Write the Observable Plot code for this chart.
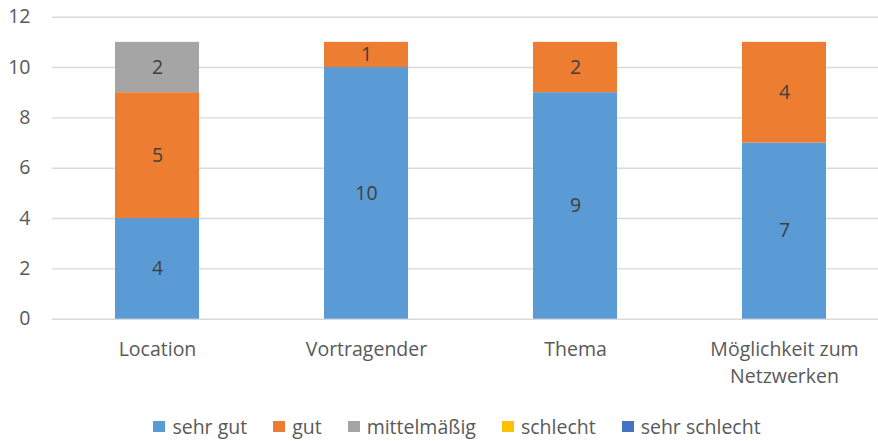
<!DOCTYPE html>
<html><head><meta charset="utf-8">
<script src="https://cdn.jsdelivr.net/npm/d3@7"></script>
<script src="https://cdn.jsdelivr.net/npm/@observablehq/plot@0.6"></script>
<style>
body{margin:0;background:#fff;font-family:"Open Sans",sans-serif;overflow:hidden}
#legend{display:flex;justify-content:center;align-items:center;width:878px;box-sizing:border-box;padding-left:36px;height:32px;font-size:19.5px;color:#595959;gap:26px}
#legend .item{display:flex;align-items:center;gap:7px}
#legend .sw{width:12px;height:11px;display:inline-block}
</style></head><body><div id="chart"></div><div id="legend"></div><script>
const categories = ["Location", "Vortragender", "Thema", "Möglichkeit zum Netzwerken"];
const seriesNames = ["sehr gut", "gut", "mittelmäßig", "schlecht", "sehr schlecht"];
const seriesColors = ["#5B9BD5", "#ED7D31", "#A5A5A5", "#FFC000", "#4472C4"];
const sehrGut = [4, 10, 9, 7];
const gut = [5, 1, 2, 4];
const mittelmaessig = [2, 0, 0, 0];
const schlecht = [0, 0, 0, 0];
const sehrSchlecht = [0, 0, 0, 0];
const yTicks = [0, 2, 4, 6, 8, 10, 12];

const seriesValues = [sehrGut, gut, mittelmaessig, schlecht, sehrSchlecht];
const rows = [];
seriesNames.forEach((s, si) => categories.forEach((c, ci) => {
  rows.push({category: c, series: s, value: seriesValues[si][ci]});
}));
const nonZero = rows.filter(d => d.value > 0);

const chart = Plot.plot({
  width: 878,
  height: 410,
  marginLeft: 52,
  marginRight: 0,
  marginTop: 16.7,
  marginBottom: 91.3,
  style: {fontFamily: "Open Sans, sans-serif", fontSize: "19.5px", color: "#595959", background: "white"},
  x: {domain: categories, range: [52, 888], paddingInner: 0.6, paddingOuter: 0.3, label: null},
  y: {domain: [0, 12], label: null},
  color: {domain: seriesNames, range: seriesColors},
  marks: [
    Plot.gridY(yTicks, {stroke: "#d9d9d9", strokeOpacity: 1, strokeWidth: 1.4}),
    Plot.barY(nonZero, Plot.stackY({x: "category", y: "value", fill: "series", z: "series"})),
    Plot.text(nonZero, Plot.stackY({x: "category", y: "value", z: "series", text: d => String(d.value), fill: "#404040", fontSize: 19.5})),
    Plot.axisY(yTicks, {tickSize: 0, tickPadding: 22, fontSize: 19.5, fill: "#595959", label: null}),
    Plot.axisX({tickSize: 0, tickPadding: 17, fontSize: 19.5, fill: "#595959", lineHeight: 1.4,
      tickFormat: d => d === "Möglichkeit zum Netzwerken" ? "Möglichkeit zum\nNetzwerken" : d, label: null})
  ]
});
document.getElementById("chart").append(chart);

const legend = document.getElementById("legend");
seriesNames.forEach((s, i) => {
  const item = document.createElement("div");
  item.className = "item";
  const sw = document.createElement("span");
  sw.className = "sw";
  sw.style.background = seriesColors[i];
  const t = document.createElement("span");
  t.textContent = s;
  item.append(sw, t);
  legend.append(item);
});
</script></body></html>
